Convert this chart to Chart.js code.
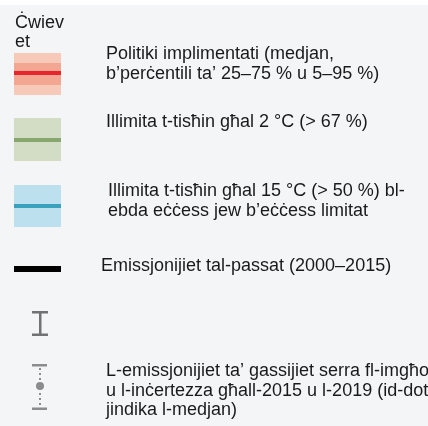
<!DOCTYPE html>
<html>
<head>
<meta charset="utf-8">
<script src="https://cdn.jsdelivr.net/npm/chart.js@4.4.0/dist/chart.umd.min.js"></script>
<style>
html, body { margin: 0; padding: 0; background: #f4f5f7; }
#wrap { width: 428px; height: 426px; }
</style>
</head>
<body>
<div id="wrap"><canvas id="legendChart" width="428" height="426"></canvas></div>
<script>
// legend content
const legendTitle = ['Ċwiev', 'et'];
const entryLabels = [
  ['Politiki implimentati (medjan,', 'b’perċentili ta’ 25–75 % u 5–95 %)'],
  ['Illimita t-tisħin għal 2 °C (> 67 %)'],
  ['Illimita t-tisħin għal 15 °C (> 50 %) bl-', 'ebda eċċess jew b’eċċess limitat'],
  ['Emissjonijiet tal-passat (2000–2015)'],
  [],
  ['L-emissjonijiet ta’ gassijiet serra fl-imgħoddi', 'u l-inċertezza għall-2015 u l-2019 (id-dott', 'jindika l-medjan)']
];
const entryKinds = ['band2', 'band', 'band', 'line', 'ibeam', 'dotted'];

// styles (layout, not data)
const FONT = '18px "Liberation Sans", Arial, sans-serif';
const TEXT = '#1a1a1a';
const swatch = [
  { y: 53, h: 42, outer: '#f6c9b9', inner: '#f3a793', innerY: 63, innerH: 22, line: '#e5262c', lineY: 71, lineH: 4 },
  { y: 118, h: 43, fill: '#d3dcc4', line: '#88a670', lineY: 138, lineH: 4 },
  { y: 185, h: 42, fill: '#bde0ef', line: '#3b9fbe', lineY: 204, lineH: 4 },
  { lineY: 266, lineH: 6, line: '#000000' },
  { top: 311, bottom: 336, color: '#727272' },
  { top: 364, bottom: 410, mid: 386, color: '#8c8c8c' }
];
const textPos = [
  { x: 106, y: [59, 79] },
  { x: 106, y: [127] },
  { x: 108, y: [196, 216] },
  { x: 101, y: [271] },
  { x: 106, y: [] },
  { x: 106, y: [376, 396, 415] }
];

const legendPlugin = {
  id: 'legendPanel',
  beforeDraw(chart) {
    const ctx = chart.ctx;
    ctx.save();
    ctx.fillStyle = '#f4f5f7';
    ctx.fillRect(0, 0, chart.width, chart.height);
    ctx.fillStyle = '#ffffff';
    ctx.fillRect(0, 0, chart.width, 5);
    ctx.restore();
  },
  afterDraw(chart) {
    const ctx = chart.ctx;
    ctx.save();
    ctx.font = FONT;
    ctx.fillStyle = TEXT;
    ctx.textBaseline = 'alphabetic';
    ctx.fillText(legendTitle[0], 15, 28);
    ctx.fillText(legendTitle[1], 15, 47);

    const x0 = 14, w = 47;
    entryKinds.forEach((kind, i) => {
      const s = swatch[i];
      if (kind === 'band2') {
        ctx.fillStyle = s.outer; ctx.fillRect(x0, s.y, w, s.h);
        ctx.fillStyle = s.inner; ctx.fillRect(x0, s.innerY, w, s.innerH);
        ctx.fillStyle = s.line; ctx.fillRect(x0, s.lineY, w, s.lineH);
      } else if (kind === 'band') {
        ctx.fillStyle = s.fill; ctx.fillRect(x0, s.y, w, s.h);
        ctx.fillStyle = s.line; ctx.fillRect(x0, s.lineY, w, s.lineH);
      } else if (kind === 'line') {
        ctx.fillStyle = s.line; ctx.fillRect(x0, s.lineY, w, s.lineH);
      } else if (kind === 'ibeam') {
        ctx.fillStyle = s.color;
        ctx.fillRect(32, s.top, 16, 2.5);
        ctx.fillRect(39, s.top, 2.5, s.bottom - s.top);
        ctx.fillRect(32, s.bottom - 2.5, 16, 2.5);
      } else if (kind === 'dotted') {
        ctx.fillStyle = s.color;
        ctx.strokeStyle = s.color;
        ctx.fillRect(32, s.top, 15, 2.5);
        ctx.fillRect(32, s.bottom - 2.5, 15, 2.5);
        ctx.lineWidth = 2;
        ctx.setLineDash([2, 3]);
        ctx.beginPath();
        ctx.moveTo(40, s.top + 4);
        ctx.lineTo(40, s.bottom - 3);
        ctx.stroke();
        ctx.setLineDash([]);
        ctx.beginPath();
        ctx.arc(40, s.mid, 4, 0, Math.PI * 2);
        ctx.fill();
      }
      ctx.fillStyle = TEXT;
      entryLabels[i].forEach((line, j) => {
        ctx.fillText(line, textPos[i].x, textPos[i].y[j]);
      });
    });
    ctx.restore();
  }
};

new Chart(document.getElementById('legendChart'), {
  type: 'scatter',
  data: { datasets: [] },
  options: {
    responsive: false,
    animation: false,
    layout: { padding: 0 },
    scales: { x: { display: false }, y: { display: false } },
    plugins: { legend: { display: false }, tooltip: { enabled: false } }
  },
  plugins: [legendPlugin]
});
</script>
</body>
</html>
